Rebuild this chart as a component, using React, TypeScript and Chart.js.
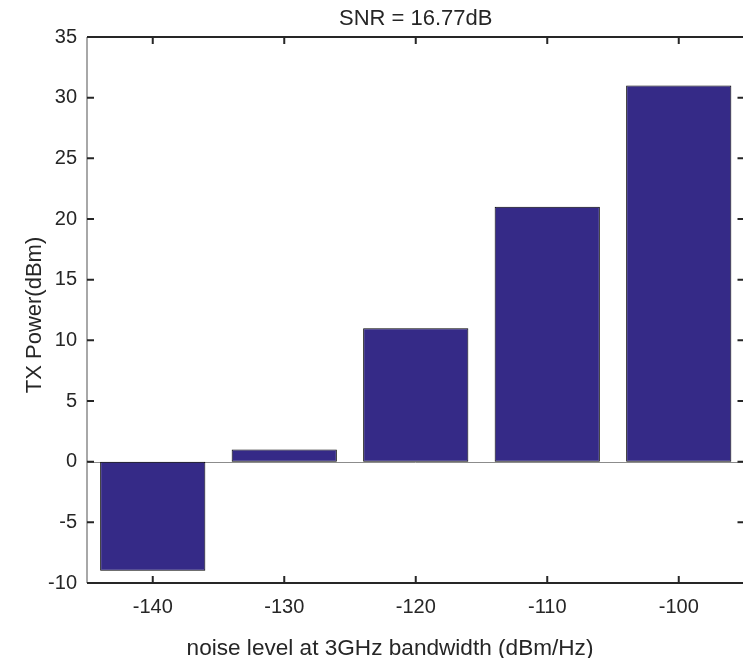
import React, { useEffect, useRef } from "react";
import { Chart, registerables } from "chart.js";

Chart.register(...registerables);

const categories = ["-140", "-130", "-120", "-110", "-100"];
const txPower = [-9, 1, 11, 21, 31];
const yTicks = [-10, -5, 0, 5, 10, 15, 20, 25, 30, 35];
const chartTitle = "SNR = 16.77dB";
const xTitle = "noise level at 3GHz bandwidth (dBm/Hz)";
const yTitle = "TX Power(dBm)";

const FONT = "'Liberation Sans', Arial, sans-serif";
const BAR = "rgb(53,42,135)";

const framePlugin = {
  id: "frame",
  beforeDatasetsDraw(chart: any) {
    const { ctx, chartArea: a, scales } = chart;
    const y0 = scales.y.getPixelForValue(0);
    ctx.save();
    ctx.strokeStyle = "#8c8c8c";
    ctx.lineWidth = 1;
    ctx.beginPath();
    ctx.moveTo(a.left, Math.round(y0) + 0.5);
    ctx.lineTo(a.right, Math.round(y0) + 0.5);
    ctx.stroke();
    ctx.restore();
  },
  afterDatasetsDraw(chart: any) {
    const { ctx, chartArea: a, scales } = chart;
    const tl = 7;
    ctx.save();
    ctx.strokeStyle = "#262626";
    ctx.lineWidth = 2;
    ctx.beginPath();
    ctx.moveTo(a.left, a.top);
    ctx.lineTo(a.right, a.top);
    ctx.moveTo(a.left, a.bottom);
    ctx.lineTo(a.right, a.bottom);
    ctx.stroke();
    ctx.strokeStyle = "#8c8c8c";
    ctx.lineWidth = 1.5;
    ctx.beginPath();
    ctx.moveTo(a.left, a.top);
    ctx.lineTo(a.left, a.bottom);
    ctx.moveTo(a.right, a.top);
    ctx.lineTo(a.right, a.bottom);
    ctx.stroke();
    ctx.strokeStyle = "#262626";
    ctx.lineWidth = 2;
    ctx.beginPath();
    categories.forEach((_, i) => {
      const x = scales.x.getPixelForValue(i);
      ctx.moveTo(x, a.bottom);
      ctx.lineTo(x, a.bottom - tl);
      ctx.moveTo(x, a.top);
      ctx.lineTo(x, a.top + tl);
    });
    yTicks.forEach((v) => {
      const y = scales.y.getPixelForValue(v);
      ctx.moveTo(a.left, y);
      ctx.lineTo(a.left + tl, y);
      ctx.moveTo(a.right, y);
      ctx.lineTo(a.right - tl, y);
    });
    ctx.stroke();
    ctx.fillStyle = "#262626";
    ctx.textAlign = "center";
    ctx.textBaseline = "alphabetic";
    ctx.font = `22px ${FONT}`;
    ctx.fillText(chartTitle, (a.left + a.right) / 2, 25);
    ctx.font = `22.6px ${FONT}`;
    ctx.fillText(xTitle, 390, 655);
    ctx.translate(41, 315);
    ctx.rotate(-Math.PI / 2);
    ctx.font = `22px ${FONT}`;
    ctx.fillText(yTitle, 0, 0);
    ctx.restore();
  },
};

export default function App() {
  const ref = useRef<HTMLCanvasElement>(null);
  useEffect(() => {
    document.body.style.margin = "0";
    document.body.style.overflow = "hidden";
    const canvas = ref.current!;
    const chart = new Chart(canvas, {
      type: "bar",
      data: {
        labels: categories,
        datasets: [
          {
            data: txPower,
            backgroundColor: BAR,
            borderColor: "#000000",
            borderWidth: 1,
            borderSkipped: false,
            barPercentage: 0.8,
            categoryPercentage: 1.0,
          },
        ],
      },
      options: {
        responsive: false,
        animation: false,
        devicePixelRatio: 1,
        layout: { padding: { top: 37, right: 15.5, left: 0, bottom: 0 } },
        plugins: { legend: { display: false }, tooltip: { enabled: false }, title: { display: false } },
        scales: {
          x: {
            type: "category",
            offset: true,
            grid: { display: false, drawTicks: false },
            border: { display: false },
            ticks: { color: "#262626", font: { family: FONT, size: 20 }, padding: 12, maxRotation: 0 },
            afterFit: (s: any) => {
              s.height = 75;
            },
          },
          y: {
            min: -10,
            max: 35,
            grid: { display: false, drawTicks: false },
            border: { display: false },
            ticks: { stepSize: 5, color: "#262626", font: { family: FONT, size: 20 }, padding: 10 },
            afterFit: (s: any) => {
              s.width = 87;
            },
          },
        },
      },
      plugins: [framePlugin],
    });
    return () => chart.destroy();
  }, []);
  return (
    <div style={{ position: "fixed", left: 0, top: 0, width: 743, height: 658, overflow: "hidden", background: "#fff" }}>
      <canvas ref={ref} width={760} height={658} style={{ display: "block" }} />
    </div>
  );
}
